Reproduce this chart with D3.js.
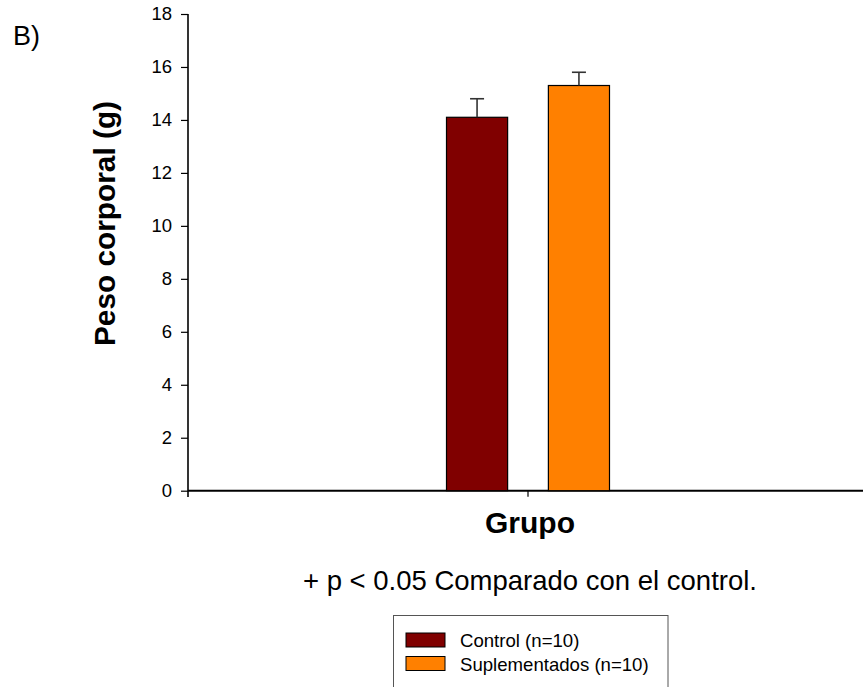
<!DOCTYPE html>
<html>
<head>
<meta charset="utf-8">
<script src="https://cdn.jsdelivr.net/npm/d3@7"></script>
<style>
  html, body { margin: 0; padding: 0; background: #fff; }
  svg { display: block; font-family: Arial, "Liberation Sans", Helvetica, sans-serif; }
</style>
</head>
<body>
<svg id="chart" width="863" height="687"></svg>
<script>
// Body weight by group (mean and upper SD)
const groups = ["Control (n=10)", "Suplementados (n=10)"];
const means = [14.1, 15.3];
const errors = [0.7, 0.5];
const colors = ["#800000", "#FF8000"];
const yTicks = [0, 2, 4, 6, 8, 10, 12, 14, 16, 18];

const svg = d3.select("#chart");

const y = d3.scaleLinear().domain([0, 18]).range([490.7, 14]);
const xOuter = d3.scaleBand().domain([""]).range([188, 868]);
const center = xOuter("") + xOuter.bandwidth() / 2;
const xInner = d3.scaleBand().domain(groups)
  .range([center - 81.5, center + 81.5]).paddingInner(0.4).paddingOuter(0);

// Y axis
const yAxis = svg.append("g").attr("transform", "translate(188,0)")
  .call(d3.axisLeft(y).tickValues(yTicks).tickSize(7).tickPadding(9).tickFormat(d3.format("d")));
yAxis.select(".domain").attr("d", "M0,14V497").attr("stroke", "#000").attr("stroke-width", 1.6);
yAxis.selectAll(".tick line").attr("stroke", "#000").attr("stroke-width", 1.2);
yAxis.selectAll(".tick text").attr("font-size", 18.5).attr("fill", "#000")
  .attr("font-family", "Arial, 'Liberation Sans', sans-serif");

// X axis
const xAxis = svg.append("g").attr("transform", `translate(0,${y(0)})`)
  .call(d3.axisBottom(xOuter).tickSize(6).tickFormat(""));
xAxis.select(".domain").attr("d", "M188,0H863").attr("stroke", "#000").attr("stroke-width", 2);
xAxis.selectAll(".tick line").attr("stroke", "#000").attr("stroke-width", 1.2);

// Bars
svg.append("g").selectAll("rect").data(groups).join("rect")
  .attr("x", d => xInner(d))
  .attr("y", (d, i) => y(means[i]))
  .attr("width", xInner.bandwidth())
  .attr("height", (d, i) => y(0) - y(means[i]))
  .attr("fill", (d, i) => colors[i])
  .attr("stroke", "#000").attr("stroke-width", 1.2);

// Error bars (upper only)
const eb = svg.append("g").attr("stroke", "#333").attr("stroke-width", 1.6);
groups.forEach((g, i) => {
  const cx = xInner(g) + xInner.bandwidth() / 2;
  eb.append("line").attr("x1", cx).attr("x2", cx)
    .attr("y1", y(means[i])).attr("y2", y(means[i] + errors[i]));
  eb.append("line").attr("x1", cx - 7).attr("x2", cx + 7)
    .attr("y1", y(means[i] + errors[i])).attr("y2", y(means[i] + errors[i]));
});

// Titles
svg.append("text").attr("x", 13).attr("y", 44.5).attr("font-size", 27).text("B)");

svg.append("text")
  .attr("transform", "translate(115,223.5) rotate(-90)")
  .attr("text-anchor", "middle").attr("font-size", 29.8).attr("font-weight", "bold")
  .text("Peso corporal (g)");

svg.append("text").attr("x", 530).attr("y", 533).attr("text-anchor", "middle")
  .attr("font-size", 30).attr("font-weight", "bold").text("Grupo");

svg.append("text").attr("x", 530).attr("y", 590).attr("text-anchor", "middle")
  .attr("font-size", 27.5).text("+ p < 0.05 Comparado con el control.");

// Legend
const lg = svg.append("g");
lg.append("rect").attr("x", 393.5).attr("y", 615.5).attr("width", 274.5).attr("height", 80)
  .attr("fill", "#fff").attr("stroke", "#555").attr("stroke-width", 1);
groups.forEach((g, i) => {
  const ly = 633 + i * 23.5;
  lg.append("rect").attr("x", 406).attr("y", ly).attr("width", 39).attr("height", 14)
    .attr("fill", colors[i]).attr("stroke", "#000").attr("stroke-width", 1);
  lg.append("text").attr("x", 460).attr("y", ly + 14).attr("font-size", 18.6).text(g);
});
</script>
</body>
</html>
